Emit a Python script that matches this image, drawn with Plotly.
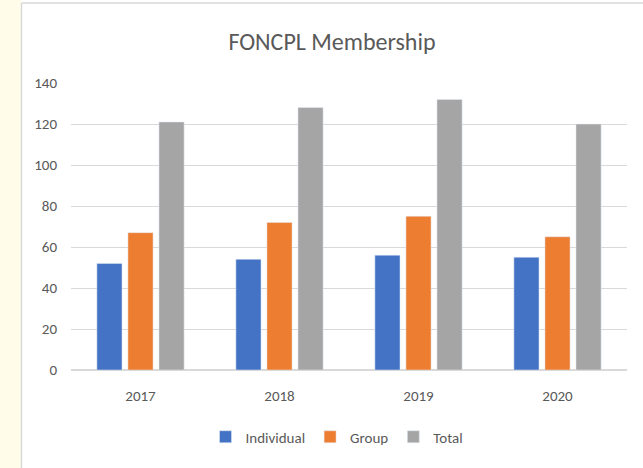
import plotly.graph_objects as go

years = ["2017", "2018", "2019", "2020"]
individual = [52, 54, 56, 55]
group = [67, 72, 75, 65]
total = [121, 128, 132, 120]
y_ticks = [0, 20, 40, 60, 80, 100, 120, 140]

W, H = 643, 468
L, R, T, B = 71, 16, 83, 98
pw = W - L - R
ph = H - T - B

def px_x(p):
    return (p - L) / pw

def px_y(p):
    return (H - B - p) / ph

font = "Carlito, Liberation Sans Narrow, Liberation Sans, Arial"
fig = go.Figure()
fig.add_bar(x=years, y=individual, name="Individual", marker_color="#4472C4")
fig.add_bar(x=years, y=group, name="Group", marker_color="#ED7D31")
fig.add_bar(x=years, y=total, name="Total", marker_color="#A5A5A5")

fig.update_layout(
    width=W, height=H,
    margin=dict(l=L, r=R, t=T, b=B),
    paper_bgcolor="white", plot_bgcolor="white",
    barmode="group", bargap=0.33, bargroupgap=0.19,
    title=dict(text="FONCPL Membership", x=px_x(332), xref="paper", xanchor="center",
               y=1 - 42 / H, yanchor="middle",
               font=dict(family=font, size=24, color="#595959")),
    font=dict(family=font, size=15, color="#595959"),
    legend=dict(orientation="h", x=px_x(337), xanchor="center", y=px_y(437), yanchor="middle",
                font=dict(size=15, color="#595959"), itemwidth=30, traceorder="normal",
                entrywidth=0),
    showlegend=True,
    shapes=[
        dict(type="rect", xref="paper", yref="paper", x0=px_x(0), x1=px_x(21.5),
             y0=px_y(H), y1=px_y(0), fillcolor="#fffcea", line=dict(width=0), layer="below"),
        dict(type="line", xref="paper", yref="paper", x0=px_x(21.5), x1=px_x(21.5),
             y0=px_y(H), y1=px_y(3), line=dict(color="#d9d9d9", width=1.5)),
        dict(type="line", xref="paper", yref="paper", x0=px_x(21.5), x1=px_x(W),
             y0=px_y(3), y1=px_y(3), line=dict(color="#d9d9d9", width=1.5)),
    ],
)
fig.update_xaxes(showgrid=False, showline=False, ticks="", ticklabelstandoff=15,
                 tickfont=dict(size=15, color="#595959"))
fig.update_yaxes(range=[0, 140], tickvals=y_ticks, showgrid=True, gridcolor="#d9d9d9",
                 gridwidth=1, zeroline=True, zerolinecolor="#d9d9d9", zerolinewidth=1.5,
                 ticks="", ticklabelstandoff=13, tickfont=dict(size=15, color="#595959"))

fig.write_html("out.html", config={"displayModeBar": False},
               post_script="document.body.style.margin='0';")
